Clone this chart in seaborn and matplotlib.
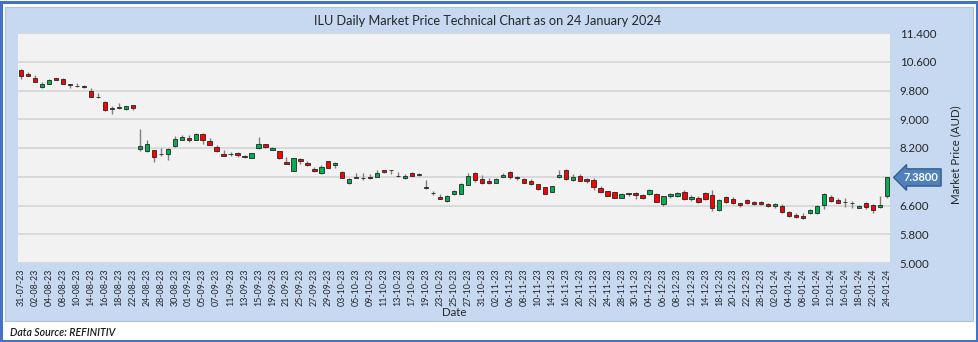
import numpy as np
import pandas as pd
import matplotlib
matplotlib.use("Agg")
import matplotlib.pyplot as plt
import seaborn as sns
from matplotlib.patches import Rectangle

sns.set_theme(style="white")
plt.rcParams["font.family"] = ["Lato", "DejaVu Sans"]

# ---- data -------------------------------------------------------------
trading_days = pd.bdate_range("2023-07-31", "2024-01-24")
market_holidays = pd.to_datetime(["2023-12-25", "2023-12-26", "2024-01-01"])
trading_days = trading_days[~trading_days.isin(market_holidays)]
date_labels = trading_days.strftime("%d-%m-%y").tolist()

opens = [10.37, 10.26, 10.16, 9.89, 9.99, 10.14, 10.11, 9.97, 9.93, 9.91,
         9.79, 9.62, 9.48, 9.28, 9.32, 9.28, 9.39, 8.18, 8.11, 8.14,
         8.02, 8.04, 8.25, 8.42, 8.48, 8.425, 8.60, 8.39, 8.24, 8.03,
         8.02, 8.07, 7.99, 7.93, 8.20, 8.30, 8.15, 8.11, 7.81, 7.57,
         7.90, 7.79, 7.62, 7.50, 7.83, 7.74, 7.52, 7.24, 7.375, 7.36,
         7.40, 7.39, 7.59, 7.575, 7.425, 7.355, 7.51, 7.46, 7.105, 6.95,
         6.845, 6.73, 6.92, 6.92, 7.17, 7.495, 7.33, 7.29, 7.235, 7.40,
         7.54, 7.40, 7.345, 7.28, 7.19, 7.115, 6.985, 7.40, 7.585, 7.315,
         7.41, 7.335, 7.315, 7.095, 7.00, 6.965, 6.82, 6.93, 6.955, 6.89,
         6.93, 6.92, 6.65, 6.87, 6.865, 6.975, 6.78, 6.80, 6.955, 6.90,
         6.475, 6.835, 6.78, 6.66, 6.745, 6.70, 6.71, 6.64, 6.575, 6.585,
         6.43, 6.345, 6.32, 6.385, 6.39, 6.615, 6.845, 6.76, 6.69, 6.66,
         6.54, 6.66, 6.605, 6.55, 6.87]
highs = [10.40, 10.32, 10.22, 10.05, 10.13, 10.16, 10.16, 9.98, 10.00, 9.95,
         9.86, 9.72, 9.50, 9.36, 9.44, 9.37, 9.40, 8.72, 8.42, 8.15,
         8.19, 8.20, 8.53, 8.57, 8.555, 8.63, 8.63, 8.47, 8.27, 8.15,
         8.09, 8.10, 8.00, 8.07, 8.50, 8.32, 8.23, 8.12, 7.94, 7.93,
         7.915, 7.84, 7.68, 7.73, 7.85, 7.82, 7.57, 7.36, 7.50, 7.50,
         7.47, 7.60, 7.60, 7.60, 7.52, 7.47, 7.53, 7.495, 7.30, 7.01,
         6.92, 6.89, 7.02, 7.22, 7.51, 7.54, 7.44, 7.36, 7.36, 7.495,
         7.57, 7.43, 7.37, 7.335, 7.20, 7.12, 7.14, 7.585, 7.61, 7.465,
         7.465, 7.37, 7.355, 7.15, 7.01, 6.98, 6.95, 6.94, 6.985, 6.91,
         7.05, 6.94, 6.875, 6.955, 6.965, 7.03, 6.89, 6.865, 6.985, 7.03,
         6.77, 6.865, 6.825, 6.68, 6.77, 6.715, 6.735, 6.66, 6.66, 6.63,
         6.45, 6.38, 6.38, 6.49, 6.61, 6.955, 6.89, 6.80, 6.80, 6.735,
         6.615, 6.705, 6.635, 6.865, 7.40]
lows = [10.12, 10.20, 10.04, 9.88, 9.98, 10.08, 9.98, 9.88, 9.89, 9.87,
        9.62, 9.60, 9.24, 9.16, 9.28, 9.27, 9.25, 8.12, 8.10, 7.82,
        7.97, 7.88, 8.24, 8.41, 8.37, 8.41, 8.32, 8.29, 8.10, 7.985,
        7.98, 7.96, 7.93, 7.93, 8.16, 8.20, 8.14, 7.905, 7.76, 7.565,
        7.76, 7.70, 7.545, 7.49, 7.635, 7.64, 7.36, 7.20, 7.37, 7.31,
        7.345, 7.38, 7.51, 7.485, 7.40, 7.34, 7.41, 7.42, 7.05, 6.89,
        6.77, 6.70, 6.90, 6.91, 7.16, 7.26, 7.21, 7.21, 7.215, 7.38,
        7.33, 7.31, 7.215, 7.17, 7.04, 6.92, 6.975, 7.355, 7.31, 7.29,
        7.28, 7.215, 7.03, 6.945, 6.86, 6.81, 6.81, 6.87, 6.77, 6.77,
        6.89, 6.69, 6.585, 6.82, 6.845, 6.75, 6.725, 6.68, 6.755, 6.44,
        6.455, 6.66, 6.64, 6.55, 6.64, 6.61, 6.61, 6.56, 6.53, 6.40,
        6.29, 6.25, 6.22, 6.365, 6.365, 6.49, 6.705, 6.66, 6.55, 6.52,
        6.52, 6.50, 6.40, 6.52, 6.82]
closes = [10.21, 10.21, 10.05, 9.98, 10.09, 10.09, 9.99, 9.96, 9.92, 9.90,
          9.63, 9.61, 9.27, 9.30, 9.33, 9.36, 9.30, 8.25, 8.30, 7.95,
          8.03, 8.17, 8.46, 8.52, 8.41, 8.60, 8.435, 8.295, 8.13, 7.99,
          8.025, 8.015, 7.95, 8.06, 8.32, 8.23, 8.20, 7.915, 7.765, 7.92,
          7.85, 7.72, 7.555, 7.66, 7.655, 7.78, 7.37, 7.35, 7.38, 7.355,
          7.355, 7.495, 7.53, 7.58, 7.42, 7.43, 7.43, 7.47, 7.10, 6.945,
          6.78, 6.87, 7.00, 7.21, 7.42, 7.31, 7.22, 7.225, 7.33, 7.44,
          7.38, 7.355, 7.225, 7.19, 7.05, 6.93, 7.13, 7.445, 7.325, 7.40,
          7.29, 7.29, 7.12, 6.965, 6.875, 6.82, 6.93, 6.925, 6.88, 6.82,
          7.02, 6.705, 6.865, 6.92, 6.935, 6.78, 6.835, 6.69, 6.79, 6.53,
          6.75, 6.69, 6.68, 6.615, 6.66, 6.63, 6.64, 6.575, 6.64, 6.42,
          6.31, 6.28, 6.26, 6.465, 6.585, 6.91, 6.735, 6.68, 6.685, 6.68,
          6.595, 6.55, 6.475, 6.615, 7.38]

y_ticks = [5.0, 5.8, 6.6, 7.4, 8.2, 9.0, 9.8, 10.6, 11.4]

df = pd.DataFrame({"date": date_labels, "open": opens, "high": highs,
                   "low": lows, "close": closes})
df["pos"] = np.arange(len(df))
df["up"] = df["close"] >= df["open"]
df["body_low"] = df[["open", "close"]].min(axis=1)
df["body_h"] = (df["close"] - df["open"]).abs().clip(lower=0.012)

# ---- figure -----------------------------------------------------------
W, H = 979, 342
fig = plt.figure(figsize=(W / 100, H / 100), dpi=100)
fig.patch.set_facecolor("white")

fig.add_artist(Rectangle((1 / W, 1 / H), (W - 3) / W, (H - 3) / H,
                         transform=fig.transFigure, fill=False,
                         edgecolor="#4472C4", lw=2.2, zorder=-2))
fig.add_artist(Rectangle((5 / W, 1 - 321 / H), (973 - 5) / W, (321 - 7) / H,
                         transform=fig.transFigure, facecolor="#C6D9F0",
                         edgecolor="#AFC3DC", lw=0.8, zorder=-1))

ax = fig.add_axes([18 / W, 1 - 263 / H, (890 - 18) / W, (263 - 33) / H])
ax.set_zorder(2)
ax.set_facecolor("#F2F2F2")

ax.vlines(df["pos"], df["low"], df["high"], color="#7F7F7F", lw=1.0, zorder=2)
colors = np.where(df["up"], "#00B050", "#FF0000")
ax.bar(df["pos"], df["body_h"], bottom=df["body_low"], width=0.62,
       color=colors, edgecolor="#262626", linewidth=0.6, zorder=3)

last_close = df["close"].iloc[-1]

ax.set_xlim(-0.45, len(df) - 0.55)
ax.set_ylim(y_ticks[0], y_ticks[-1])
ax.set_yticks(y_ticks)
# the price callout covers the tick label next to it, as in the reference
ax.set_yticklabels(["" if abs(v - last_close) < 0.3 else f"{v:.3f}" for v in y_ticks])
ax.yaxis.tick_right()
ax.yaxis.grid(True, color="#D9D9D9", lw=1.4)
ax.xaxis.grid(False)
ax.set_axisbelow(True)
ax.set_xticks(df["pos"][::2])
ax.set_xticklabels(df["date"][::2], rotation=90)
ax.tick_params(axis="x", length=0, pad=4, labelsize=6.4, labelcolor="#262626")
ax.tick_params(axis="y", length=0, pad=7, labelsize=8.3, labelcolor="#262626")
for s in ax.spines.values():
    s.set_visible(False)

ax.annotate(f"{last_close:.4f}", xy=(1.0, last_close),
            xycoords=ax.get_yaxis_transform(), xytext=(22, 0),
            textcoords="offset points", ha="center", va="center",
            color="white", fontweight="bold", fontsize=8, zorder=10,
            annotation_clip=False,
            bbox=dict(boxstyle="larrow,pad=0.28", fc="#4F81BD", ec="#385D8A", lw=1))

fig.text(488 / W, 1 - 21 / H,
         "ILU Daily Market Price Technical Chart as on 24 January 2024",
         ha="center", va="center", fontsize=9.2, color="#262626")
fig.text(454 / W, 1 - 313 / H, "Date", ha="center", va="center",
         fontsize=8.3, color="#262626")
fig.text(956 / W, 1 - 155 / H, "Market Price (AUD)", ha="center", va="center",
         rotation=90, fontsize=8.3, color="#262626")
fig.text(10 / W, 1 - 332 / H, "Data Source: REFINITIV", ha="left", va="center",
         fontsize=7.6, style="italic", fontweight="semibold", color="#1a1a1a")

fig.savefig("out.png", dpi=100)
